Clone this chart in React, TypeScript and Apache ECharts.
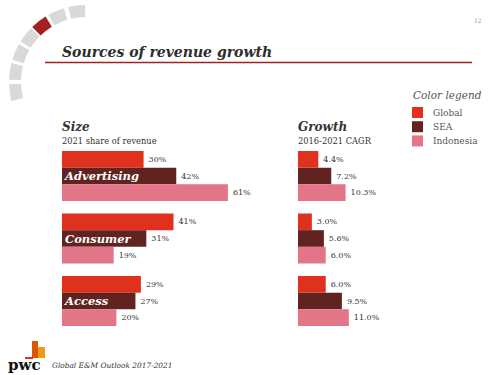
import { useEffect, useRef } from "react";
import * as echarts from "echarts";

const categories = ["Advertising", "Consumer", "Access"];
const seriesNames = ["Global", "SEA", "Indonesia"];
const seriesColors = ["#e0301e", "#602320", "#e27588"];
const sizeGlobal = [30, 41, 29];
const sizeSEA = [42, 31, 27];
const sizeIndonesia = [61, 19, 20];
const growthGlobal = [4.4, 3.0, 6.0];
const growthSEA = [7.2, 5.6, 9.5];
const growthIndonesia = [10.3, 6.0, 11.0];

const SERIF = "'DejaVu Serif', 'Liberation Serif', serif";

export default function App() {
  const ref = useRef<HTMLDivElement>(null);
  useEffect(() => {
    if (!ref.current) return;
    const chart = echarts.init(ref.current, null, { renderer: "svg" });

    const sizeData = [sizeGlobal, sizeSEA, sizeIndonesia];
    const growthData = [growthGlobal, growthSEA, growthIndonesia];

    const labelStyle = {
      show: true,
      position: "right" as const,
      distance: 5,
      fontFamily: SERIF,
      fontSize: 8,
      color: "#333",
    };

    const series: any[] = [];
    seriesNames.forEach((name, i) => {
      series.push({
        name,
        type: "bar",
        xAxisIndex: 0,
        yAxisIndex: 0,
        data: sizeData[i],
        barGap: "0%",
        barCategoryGap: "20%",
        itemStyle: { color: seriesColors[i] },
        label: { ...labelStyle, formatter: (p: any) => p.value + "%" },
      });
    });
    seriesNames.forEach((name, i) => {
      series.push({
        name,
        type: "bar",
        xAxisIndex: 1,
        yAxisIndex: 1,
        data: growthData[i],
        barGap: "0%",
        barCategoryGap: "20%",
        itemStyle: { color: seriesColors[i] },
        label: {
          ...labelStyle,
          formatter: (p: any) => Number(p.value).toFixed(1) + "%",
        },
      });
    });

    // decorative arc segments
    const segCenters = [172, 188, 203, 218, 232, 247, 263];
    const arcSegs = segCenters.map((c, i) => ({
      type: "sector",
      shape: {
        cx: 86,
        cy: 82,
        r0: 65,
        r: 77,
        startAngle: ((c - 6.3) * Math.PI) / 180,
        endAngle: ((c + 6.3) * Math.PI) / 180,
        clockwise: true,
      },
      style: { fill: i === 4 ? "#a32020" : "#d9d9d9" },
      silent: true,
    }));

    const legendItems: any[] = [];
    seriesNames.forEach((name, i) => {
      legendItems.push({
        type: "rect",
        shape: { x: 412, y: 107 + i * 14.2, width: 11, height: 11 },
        style: { fill: seriesColors[i] },
      });
      legendItems.push({
        type: "text",
        x: 433,
        y: 112.5 + i * 14.2,
        style: {
          text: name,
          font: `9px ${SERIF}`,
          fill: "#555",
          verticalAlign: "middle",
        },
      });
    });

    const option: any = {
      animation: false,
      backgroundColor: "#ffffff",
      grid: [
        { left: 62, top: 144.75, width: 217.6, height: 187.5 },
        { left: 298, top: 144.75, width: 92.4, height: 187.5 },
      ],
      xAxis: [
        { type: "value", gridIndex: 0, min: 0, max: 80, show: false },
        { type: "value", gridIndex: 1, min: 0, max: 20, show: false },
      ],
      yAxis: [
        {
          type: "category",
          gridIndex: 0,
          data: categories,
          inverse: true,
          z: 10,
          axisLine: { show: false },
          axisTick: { show: false },
          splitLine: { show: false },
          axisLabel: {
            inside: true,
            margin: 3,
            align: "left",
            color: "#ffffff",
            fontFamily: SERIF,
            fontWeight: "bold",
            fontStyle: "italic",
            fontSize: 11.5,
          },
        },
        {
          type: "category",
          gridIndex: 1,
          data: categories,
          inverse: true,
          axisLine: { show: false },
          axisTick: { show: false },
          splitLine: { show: false },
          axisLabel: { show: false },
        },
      ],
      series,
      graphic: [
        ...arcSegs,
        {
          type: "text",
          x: 62,
          y: 52,
          style: {
            text: "Sources of revenue growth",
            font: `italic bold 14px ${SERIF}`,
            fill: "#2d2d2d",
            verticalAlign: "middle",
          },
        },
        {
          type: "line",
          shape: { x1: 45, y1: 62.5, x2: 472, y2: 62.5 },
          style: { stroke: "#a32020", lineWidth: 1.5 },
        },
        {
          type: "text",
          x: 474,
          y: 20,
          style: { text: "12", font: `6px ${SERIF}`, fill: "#999", verticalAlign: "middle" },
        },
        {
          type: "text",
          x: 62,
          y: 127,
          style: { text: "Size", font: `italic bold 12px ${SERIF}`, fill: "#333", verticalAlign: "middle" },
        },
        {
          type: "text",
          x: 62,
          y: 141,
          style: { text: "2021 share of revenue", font: `8.3px ${SERIF}`, fill: "#333", verticalAlign: "middle" },
        },
        {
          type: "text",
          x: 298,
          y: 127,
          style: { text: "Growth", font: `italic bold 12px ${SERIF}`, fill: "#333", verticalAlign: "middle" },
        },
        {
          type: "text",
          x: 298,
          y: 141,
          style: { text: "2016-2021 CAGR", font: `8.3px ${SERIF}`, fill: "#333", verticalAlign: "middle" },
        },
        {
          type: "text",
          x: 413,
          y: 95,
          style: { text: "Color legend", font: `italic 10.5px ${SERIF}`, fill: "#555", verticalAlign: "middle" },
        },
        ...legendItems,
        {
          type: "rect",
          shape: { x: 32, y: 341, width: 6, height: 17 },
          style: { fill: "#d85604" },
        },
        {
          type: "rect",
          shape: { x: 38, y: 347, width: 7, height: 11 },
          style: { fill: "#eb9a1a" },
        },
        {
          type: "rect",
          shape: { x: 25, y: 357, width: 8, height: 2 },
          style: { fill: "#e0301e" },
        },
        {
          type: "text",
          x: 8,
          y: 365,
          style: { text: "pwc", font: `bold 15px ${SERIF}`, fill: "#111", verticalAlign: "middle" },
        },
        {
          type: "text",
          x: 52,
          y: 365,
          style: {
            text: "Global E&M Outlook 2017-2021",
            font: `italic 7.4px ${SERIF}`,
            fill: "#333",
            verticalAlign: "middle",
          },
        },
      ],
    };

    chart.setOption(option);
    return () => chart.dispose();
  }, []);

  return (
    <div
      ref={ref}
      style={{ position: "fixed", left: 0, top: 0, width: 500, height: 375 }}
    />
  );
}
